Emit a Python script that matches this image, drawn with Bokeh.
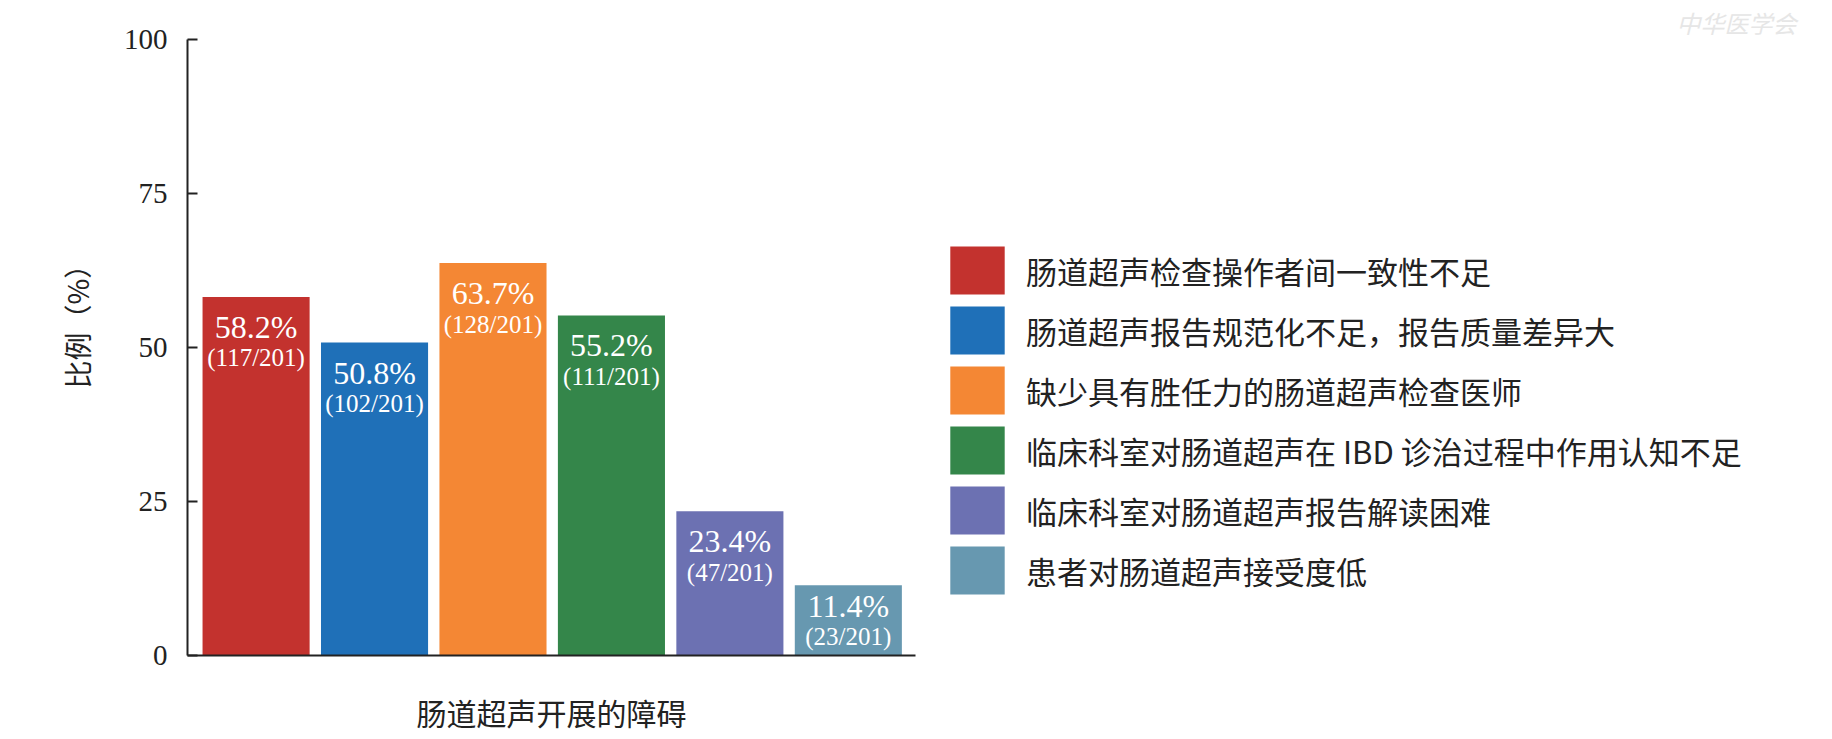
from bokeh.plotting import figure
from bokeh.models import ColumnDataSource, Legend, LegendItem, FixedTicker, Range1d, Title
from bokeh.core.properties import value
from bokeh.embed import file_html
from bokeh.resources import INLINE

# ---- data ----
categories = [
    "肠道超声检查操作者间一致性不足",
    "肠道超声报告规范化不足，报告质量差异大",
    "缺少具有胜任力的肠道超声检查医师",
    "临床科室对肠道超声在 IBD 诊治过程中作用认知不足",
    "临床科室对肠道超声报告解读困难",
    "患者对肠道超声接受度低",
]
percents = [58.2, 50.8, 63.7, 55.2, 23.4, 11.4]
counts = [117, 102, 128, 111, 47, 23]
total = 201
colors = ["#C3322E", "#1F70B8", "#F48734", "#34864A", "#6C71B2", "#6798B0"]
y_ticks = [0, 25, 50, 75, 100]
x_title = "肠道超声开展的障碍"
y_title = "比例（%）"
watermark = "中华医学会"

CJK = "Noto Sans CJK SC"
SERIF = "Liberation Serif"
INK = "#222222"

FRAME_H = 616
PX_PER_PCT = FRAME_H / 100.0
# label offsets inside each bar (pixels below the bar top); short bars pull labels up
frac_off = [min(61.0, v * PX_PER_PCT - 19.0) for v in percents]
pct_off = [f - 31.0 for f in frac_off]

src = ColumnDataSource(dict(
    x=list(range(len(categories))),
    top=percents,
    color=colors,
    pct=[f"{v:.1f}%" for v in percents],
    frac=[f"({c}/{total})" for c in counts],
    pct_off=pct_off,
    frac_off=frac_off,
))

p = figure(
    frame_width=728, frame_height=FRAME_H,
    min_border_left=187, min_border_right=900,
    min_border_top=39, min_border_bottom=76,
    x_range=Range1d(-0.579, 5.567), y_range=Range1d(0, 100),
    output_backend="svg", toolbar_location=None,
)
p.outline_line_color = None
p.xgrid.visible = False
p.ygrid.visible = False

r = p.vbar(x="x", top="top", bottom=0, width=0.904, fill_color="color",
           line_color=None, source=src)

p.text(x="x", y="top", text="pct", y_offset="pct_off", text_align="center",
       text_baseline="middle", text_color="white",
       text_font=value(SERIF), text_font_size="32px", source=src)
p.text(x="x", y="top", text="frac", y_offset="frac_off", text_align="center",
       text_baseline="middle", text_color="white",
       text_font=value(SERIF), text_font_size="25px", source=src)

# y axis
ya = p.yaxis[0]
ya.ticker = FixedTicker(ticks=y_ticks)
ya.major_tick_in = 10
ya.major_tick_out = 0
ya.minor_tick_line_color = None
ya.axis_line_width = 2
ya.axis_line_color = INK
ya.major_tick_line_width = 2
ya.major_tick_line_color = INK
ya.major_label_text_font = SERIF
ya.major_label_text_font_size = "29px"
ya.major_label_text_color = INK
ya.major_label_standoff = 20

# x axis
xa = p.xaxis[0]
xa.ticker = FixedTicker(ticks=[])
xa.minor_tick_line_color = None
xa.major_tick_line_color = None
xa.axis_line_width = 2
xa.axis_line_color = INK
xa.axis_label = x_title
xa.axis_label_text_font = CJK
xa.axis_label_text_font_size = "30px"
xa.axis_label_text_font_style = "normal"
xa.axis_label_text_color = INK
xa.axis_label_standoff = 34

# y title (starts 267 px above the frame bottom)
p.add_layout(Title(text=y_title, align="left", offset=267, standoff=48,
                   text_font=CJK, text_font_size="28px", text_font_style="normal",
                   text_color=INK), "left")

# faint watermark, top right
p.add_layout(Title(text=watermark, align="right", offset=-881, standoff=0,
                   text_font=CJK, text_font_size="24px", text_font_style="italic",
                   text_color="#e6e6e6"), "above")

legend = Legend(
    items=[LegendItem(label=c, renderers=[r], index=i) for i, c in enumerate(categories)],
    location=(28, 55), orientation="vertical",
    glyph_width=68, glyph_height=60, spacing=0, label_standoff=15,
    padding=0, margin=0, border_line_color=None, background_fill_alpha=0,
    label_text_font=CJK, label_text_font_size="31px", label_text_color=INK,
)
p.add_layout(legend, "right")

open("out.html", "w").write(file_html(p, INLINE))
